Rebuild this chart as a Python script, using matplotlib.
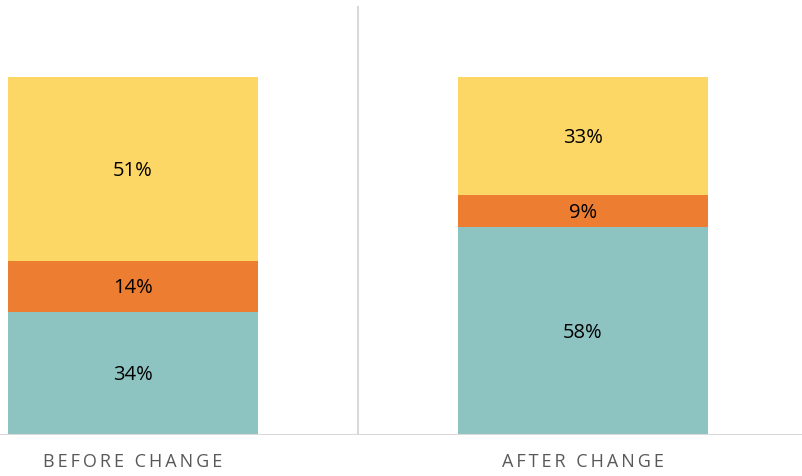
import matplotlib
matplotlib.use('Agg')
import matplotlib.pyplot as plt

categories = ['BEFORE CHANGE', 'AFTER CHANGE']
bottom_share = [34, 58]
middle_share = [14, 9]
top_share = [51, 33]

colors = ['#8DC3C1', '#ED7D31', '#FDD766']

plt.rcParams['font.family'] = ['Open Sans', 'DejaVu Sans']

fig = plt.figure(figsize=(8.03, 4.76), dpi=100)
# baseline at 435px, bar top at 77px, divider top at 6px
ax = fig.add_axes([0, 41 / 476, 1, 429 / 476])

x = [0, 1]
width = 250 / 450
totals = [a + b + c for a, b, c in zip(bottom_share, middle_share, top_share)]
series = [bottom_share, middle_share, top_share]
base = [0, 0]
for vals, col in zip(series, colors):
    frac = [v / t for v, t in zip(vals, totals)]
    ax.bar(x, frac, width, bottom=base, color=col)
    for xi, f, b, v in zip(x, frac, base, vals):
        ax.text(xi, b + f / 2 - 0.004, f'{v}%', ha='center', va='center',
                fontsize=14.5, color='black')
    base = [b + f for b, f in zip(base, frac)]

ax.set_xlim(-133 / 450, 670 / 450)
ax.set_ylim(0, 429 / 358)
ax.axvline(0.5, color='#D9D9D9', lw=1.5)
ax.axhline(0, color='#D9D9D9', lw=1.5)
for s in ax.spines.values():
    s.set_visible(False)
ax.set_xticks(x)
ax.set_xticklabels(['\u2009'.join(c) for c in categories], fontsize=13,
                   color='#595959')
ax.tick_params(axis='x', length=0, pad=13)
ax.set_yticks([])

fig.savefig('out.png', dpi=100)
